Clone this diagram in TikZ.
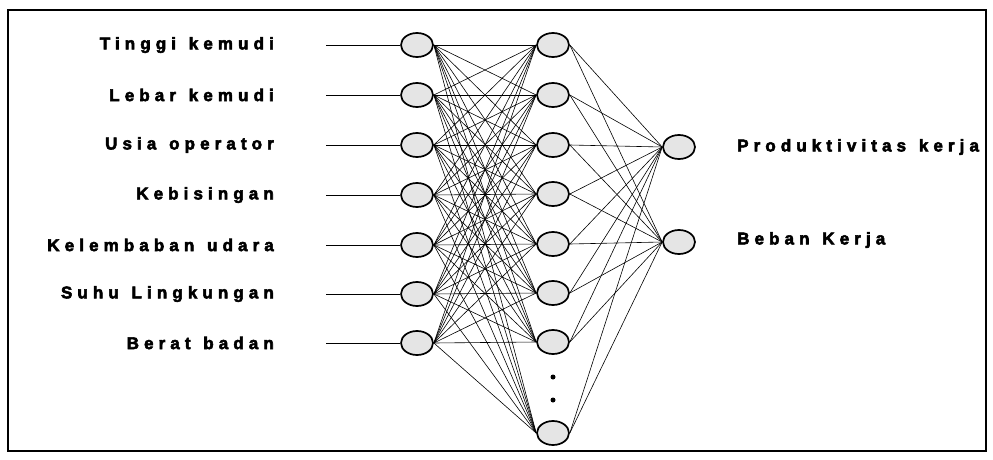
\documentclass[tikz,border=0pt]{standalone}
\usepackage{fontspec}
\setmainfont{Liberation Sans}
\newfontfamily\lblfont[LetterSpace=30, WordSpace=1.3]{Liberation Sans Bold}
\newcommand\heavytext[1]{\special{pdf:literal direct 2 Tr 0.55 w}#1\special{pdf:literal direct 0 Tr 0.4 w}}
\usetikzlibrary{shapes.geometric}
\begin{document}
\begin{tikzpicture}[x=1pt,y=-1pt,
  neuron/.style={ellipse, draw, line width=1.7pt, fill=gray!20, minimum width=32pt, minimum height=24pt, inner sep=0pt},
  link/.style={line width=0.6pt},
  lbl/.style={font=\lblfont\fontsize{17}{20}\selectfont, inner sep=0pt},
  dotmark/.style={circle, fill=black, inner sep=0pt, minimum size=5pt}]
\useasboundingbox (0,0) rectangle (993,460);
\draw[line width=1.4pt] (8,10) rectangle (986,451);
% input layer
\foreach \i/\y/\t in {1/45/Tinggi kemudi, 2/95/Lebar kemudi, 3/145/Usia operator, 4/195/Kebisingan, 5/245/Kelembaban udara, 6/294/Suhu Lingkungan, 7/343/Berat badan}{
  \node[neuron] (in\i) at (417,\y) {};
  \node[lbl, anchor=east] (lab\i) at (274,\y) {\heavytext{\t}};
  \coordinate (s\i) at (326,\y);
  \draw[link, line width=0.9pt] (s\i) -- (in\i);
}
% hidden layer
\foreach \j/\y in {1/45, 2/95, 3/145, 4/194, 5/244, 6/293, 7/342, 8/433}{
  \node[neuron] (h\j) at (553,\y) {};
}
\node[dotmark] (d1) at (553,377) {};
\node[dotmark] (d2) at (553,400) {};
% output layer
\node[neuron] (o1) at (679,147) {};
\node[neuron] (o2) at (679,242) {};
\node[lbl, anchor=west] (ol1) at (737,147) {\heavytext{Produktivitas kerja}};
\node[lbl, anchor=west] (ol2) at (737,240) {\heavytext{Beban Kerja}};
% connections
\foreach \i in {1,...,7}{
  \foreach \j in {1,...,8}{
    \draw[link] (in\i.east) -- (h\j.west);
  }
}
\foreach \j in {1,...,8}{
  \foreach \k in {1,2}{
    \draw[link] (h\j.east) -- (o\k.west);
  }
}
\end{tikzpicture}
\end{document}
